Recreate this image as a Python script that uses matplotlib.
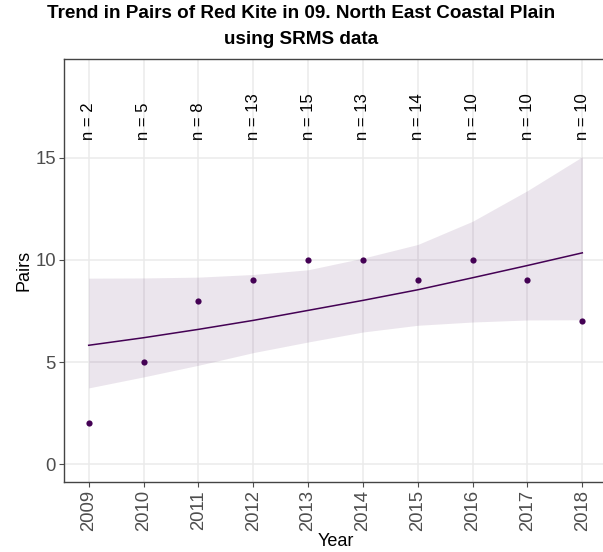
import matplotlib
matplotlib.use("Agg")
import matplotlib.pyplot as plt

plt.rcParams['font.family'] = ['Liberation Sans', 'DejaVu Sans']

years = [2009, 2010, 2011, 2012, 2013, 2014, 2015, 2016, 2017, 2018]
pairs = [2, 5, 8, 9, 10, 10, 9, 10, 9, 7]
n_counts = [2, 5, 8, 13, 15, 13, 14, 10, 10, 10]
trend = [5.82, 6.19, 6.60, 7.04, 7.53, 8.02, 8.54, 9.13, 9.73, 10.35]
ci_low = [3.73, 4.27, 4.84, 5.46, 5.98, 6.47, 6.80, 6.96, 7.06, 7.07]
ci_high = [9.11, 9.12, 9.16, 9.29, 9.52, 10.09, 10.76, 11.90, 13.40, 15.06]
n_label_y = 15.88

W, H = 603, 552
fig = plt.figure(figsize=(W / 100, H / 100), dpi=100)
left, right, top, bottom = 64, 607, 59, 482
ax = fig.add_axes([left / W, 1 - bottom / H, (right - left) / W, (bottom - top) / H])

purple = '#440154'
ax.fill_between(years, ci_low, ci_high, color=purple, alpha=0.1, linewidth=0, zorder=2)
ax.plot(years, trend, color=purple, lw=1.1, zorder=3)
ax.scatter(years, pairs, s=20, color=purple, zorder=4, linewidths=0)
for yr, n in zip(years, n_counts):
    ax.text(yr, n_label_y, f"n = {n}", rotation=90, ha='center', va='bottom',
            fontsize=12, color='black', zorder=5)

ax.set_xlim(2008.55, 2018.45)
ax.set_ylim(-0.88, 19.85)
ax.set_xticks(years)
ax.set_xticklabels([str(y) for y in years], rotation=90)
ax.set_yticks([0, 5, 10, 15])
ax.grid(True, color='#EBEBEB', lw=1.1, zorder=0)
ax.set_axisbelow(True)
for s in ['left', 'bottom', 'top']:
    ax.spines[s].set_color('#444444')
    ax.spines[s].set_linewidth(1.0)
ax.spines['right'].set_visible(False)
ax.tick_params(axis='both', colors='#4D4D4D', labelsize=13.3, length=3.3, width=0.8, pad=2.5)
ax.tick_params(axis='both', labelcolor='#4D4D4D')
ax.set_xlabel('Year', fontsize=13, color='black', labelpad=1.5)
ax.set_ylabel('Pairs', fontsize=13, color='black', labelpad=2)

fig.text(0.5, 1 - 14 / H, 'Trend in Pairs of Red Kite in 09. North East Coastal Plain',
         ha='center', va='center', fontsize=13.6, fontweight='bold')
fig.text(0.5, 1 - 40 / H, 'using SRMS data', ha='center', va='center',
         fontsize=13.6, fontweight='bold')

fig.savefig('out.png', dpi=100)
